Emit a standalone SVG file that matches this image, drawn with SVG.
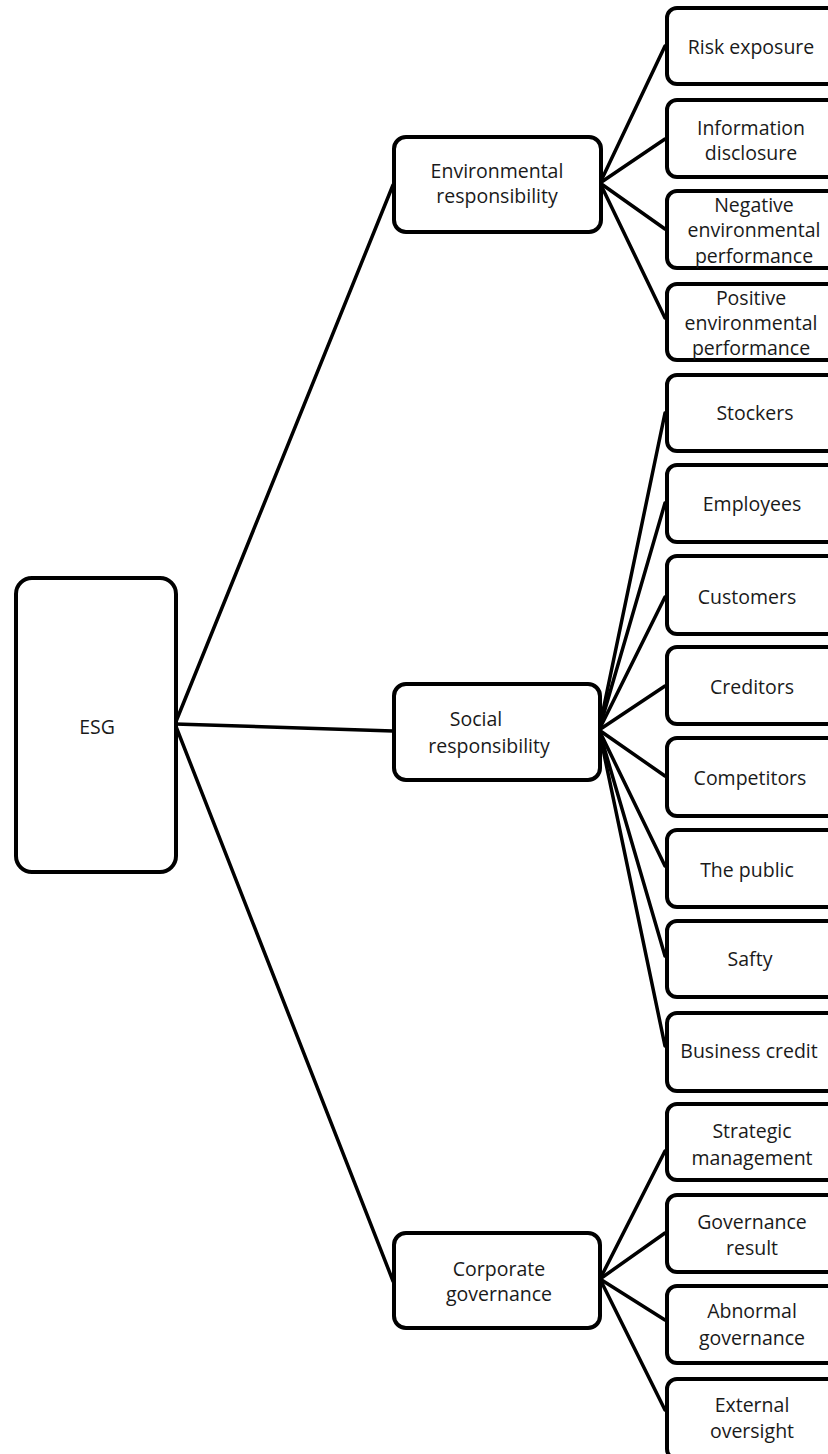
<svg xmlns="http://www.w3.org/2000/svg" width="828" height="1454" viewBox="0 0 828 1454">
<style>
rect{fill:#fff;stroke:#000;stroke-width:4}
.c line{stroke:#000;stroke-width:3.5;stroke-linecap:round}
text{font-family:"Open Sans","Liberation Sans",sans-serif;font-size:19.5px;fill:#1a1a1a;text-anchor:middle;dominant-baseline:central}
</style>
<rect x="0" y="0" width="828" height="1454" style="stroke:none"/>
<g class="c" id="connectors">
<line x1="175" y1="724" x2="393" y2="185"/>
<line x1="175" y1="724" x2="393" y2="731"/>
<line x1="175" y1="724" x2="393" y2="1281"/>
<line x1="600" y1="183" x2="665" y2="46"/>
<line x1="600" y1="183" x2="665" y2="139"/>
<line x1="600" y1="183" x2="665" y2="229"/>
<line x1="600" y1="183" x2="665" y2="318"/>
<line x1="599" y1="730" x2="665" y2="413"/>
<line x1="599" y1="730" x2="665" y2="503"/>
<line x1="599" y1="730" x2="665" y2="597"/>
<line x1="599" y1="730" x2="665" y2="686"/>
<line x1="599" y1="730" x2="665" y2="776"/>
<line x1="599" y1="730" x2="665" y2="866"/>
<line x1="599" y1="730" x2="665" y2="956"/>
<line x1="599" y1="730" x2="665" y2="1046"/>
<line x1="600" y1="1279" x2="665" y2="1151"/>
<line x1="600" y1="1279" x2="665" y2="1233"/>
<line x1="600" y1="1279" x2="665" y2="1320"/>
<line x1="600" y1="1279" x2="665" y2="1410"/>
</g>
<g id="esg"><rect x="16" y="578" width="160" height="294" rx="16"/><text x="97" y="726">ESG</text></g>
<g id="env"><rect x="394" y="137" width="207" height="95" rx="12"/><text x="497" y="170">Environmental</text><text x="497" y="195">responsibility</text></g>
<g id="social"><rect x="394" y="684" width="206" height="96" rx="12"/><text x="476" y="718">Social</text><text x="489" y="745">responsibility</text></g>
<g id="corp"><rect x="394" y="1233" width="206" height="95" rx="12"/><text x="499" y="1268">Corporate</text><text x="499" y="1293">governance</text></g>
<g id="risk"><rect x="667" y="8" width="175" height="76" rx="10"/><text x="751" y="46">Risk exposure</text></g>
<g id="info"><rect x="667" y="100" width="175" height="77" rx="10"/><text x="751" y="127">Information</text><text x="751" y="152">disclosure</text></g>
<g id="neg"><rect x="667" y="191" width="175" height="77" rx="10"/><text x="754" y="204">Negative</text><text x="754" y="229">environmental</text><text x="754" y="255">performance</text></g>
<g id="pos"><rect x="667" y="284" width="175" height="76" rx="10"/><text x="751" y="297">Positive</text><text x="751" y="322">environmental</text><text x="751" y="347">performance</text></g>
<g id="stockers"><rect x="667" y="375" width="175" height="76" rx="10"/><text x="755" y="412">Stockers</text></g>
<g id="employees"><rect x="667" y="465" width="175" height="77" rx="10"/><text x="752" y="503">Employees</text></g>
<g id="customers"><rect x="667" y="556" width="175" height="78" rx="10"/><text x="747" y="596">Customers</text></g>
<g id="creditors"><rect x="667" y="647" width="175" height="77" rx="10"/><text x="752" y="686">Creditors</text></g>
<g id="competitors"><rect x="667" y="738" width="175" height="78" rx="10"/><text x="750" y="777">Competitors</text></g>
<g id="public"><rect x="667" y="830" width="175" height="77" rx="10"/><text x="747" y="869">The public</text></g>
<g id="safty"><rect x="667" y="921" width="175" height="76" rx="10"/><text x="750" y="958">Safty</text></g>
<g id="credit"><rect x="667" y="1013" width="175" height="78" rx="10"/><text x="749" y="1050">Business credit</text></g>
<g id="strategic"><rect x="667" y="1104" width="175" height="76" rx="10"/><text x="752" y="1130">Strategic</text><text x="752" y="1157">management</text></g>
<g id="govresult"><rect x="667" y="1195" width="175" height="77" rx="10"/><text x="752" y="1221">Governance</text><text x="752" y="1247">result</text></g>
<g id="abnormal"><rect x="667" y="1286" width="175" height="77" rx="10"/><text x="752" y="1310">Abnormal</text><text x="752" y="1337">governance</text></g>
<g id="external"><rect x="667" y="1379" width="175" height="80" rx="10"/><text x="752" y="1404">External</text><text x="752" y="1430">oversight</text></g>
</svg>
